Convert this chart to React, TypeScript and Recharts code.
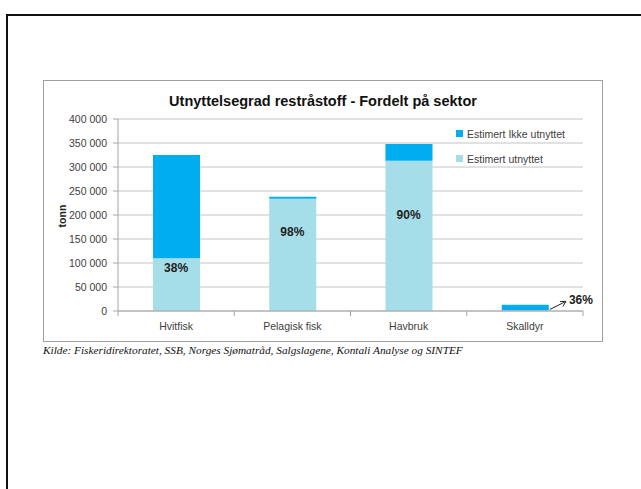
import React from 'react';
import {
  ComposedChart,
  Bar,
  Line,
  XAxis,
  YAxis,
  CartesianGrid,
  Legend,
  LabelList,
} from 'recharts';

const categories = ['Hvitfisk', 'Pelagisk fisk', 'Havbruk', 'Skalldyr'];
const utnyttet = [110000, 234000, 313000, 1500];
const ikkeUtnyttet = [215000, 4000, 35000, 11500];
const pctLabels = ['38%', '98%', '90%', '36%'];
// height (tonn) where each percentage label sits
const labelAt = [90000, 165000, 200000, 22000];
const yTicks = [0, 50000, 100000, 150000, 200000, 250000, 300000, 350000, 400000];

const DARK = '#00AEEF';
const LIGHT = '#A5DDE8';
const FONT = '"Liberation Sans", Arial, sans-serif';

const data = categories.map((name, i) => ({
  name,
  utnyttet: utnyttet[i],
  ikke: ikkeUtnyttet[i],
  pct: pctLabels[i],
  labelAt: labelAt[i],
}));

const fmt = (v: number) => String(v).replace(/\B(?=(\d{3})+(?!\d))/g, ' ');

// Excel style: tick marks between the categories
const XTick = (props: any) => {
  const { x, y, payload, index, visibleTicksCount } = props;
  const half = payload.offset || 58;
  return (
    <g>
      <line x1={x - half} x2={x - half} y1={y} y2={y + 5} stroke="#a6a6a6" />
      {index === visibleTicksCount - 1 && (
        <line x1={x + half} x2={x + half} y1={y} y2={y + 5} stroke="#a6a6a6" />
      )}
      <text
        x={x}
        y={y + 15}
        textAnchor="middle"
        dominantBaseline="central"
        fontSize={10.5}
        fill="#404040"
        fontFamily={FONT}
      >
        {payload.value}
      </text>
    </g>
  );
};

const PctLabel = (props: any) => {
  const { x, y, value, index } = props;
  if (index === 3) {
    // label outside the tiny bar, with an arrow
    const ax1 = x + 25;
    const ay1 = y + 9;
    const ax2 = x + 41;
    const ay2 = y + 1;
    return (
      <g>
        <line x1={ax1} y1={ay1} x2={ax2} y2={ay2} stroke="#222" strokeWidth={1} />
        <polyline
          points={`${ax2 - 6},${ay2} ${ax2},${ay2} ${ax2 - 3},${ay2 + 5}`}
          fill="none"
          stroke="#222"
          strokeWidth={1}
        />
        <text
          x={x + 44}
          y={y}
          dominantBaseline="central"
          fontSize={12}
          fontWeight={700}
          fill="#222"
          fontFamily={FONT}
        >
          {value}
        </text>
      </g>
    );
  }
  return (
    <text
      x={x}
      y={y}
      textAnchor="middle"
      dominantBaseline="central"
      fontSize={12}
      fontWeight={700}
      fill="#222"
      fontFamily={FONT}
    >
      {value}
    </text>
  );
};

const LegendBox = (props: any) => {
  const items = (props.payload || []).filter((p: any) => p.type !== 'none');
  const ordered = [
    ...items.filter((p: any) => p.dataKey === 'ikke'),
    ...items.filter((p: any) => p.dataKey !== 'ikke'),
  ];
  return (
    <div>
      {ordered.map((p: any) => (
        <div
          key={p.value}
          style={{ display: 'flex', alignItems: 'center', height: 25, fontSize: 10.5, color: '#404040', fontFamily: FONT }}
        >
          <span style={{ width: 7, height: 7, background: p.color, marginRight: 4, display: 'inline-block' }} />
          {p.value}
        </div>
      ))}
    </div>
  );
};

const TonnLabel = (props: any) => {
  const vb = props.viewBox || { x: 0, y: 0, width: 75, height: 192 };
  const cx = vb.x + 19;
  const cy = vb.y + vb.height / 2 + 1;
  return (
    <text
      x={cx}
      y={cy}
      transform={`rotate(-90 ${cx} ${cy})`}
      textAnchor="middle"
      dominantBaseline="central"
      fontSize={10.5}
      fontWeight={700}
      fill="#222"
      fontFamily={FONT}
    >
      tonn
    </text>
  );
};

export default function App() {
  return (
    <div
      style={{
        position: 'absolute',
        left: 0,
        top: 0,
        width: 641,
        height: 489,
        overflow: 'hidden',
        background: '#fff',
      }}
    >
      {/* page frame */}
      <div
        style={{
          position: 'absolute',
          left: 6,
          top: 14,
          width: 700,
          height: 520,
          border: '2px solid #111',
        }}
      />

      {/* chart box */}
      <div
        style={{
          position: 'absolute',
          left: 43,
          top: 80,
          width: 560,
          height: 262,
          border: '1px solid #a0a0a0',
          boxSizing: 'border-box',
        }}
      >
        <div
          style={{
            position: 'absolute',
            left: 0,
            right: 0,
            top: 12,
            textAlign: 'center',
            fontFamily: FONT,
            fontWeight: 700,
            fontSize: 14.5,
            color: '#111',
          }}
        >
          Utnyttelsegrad restråstoff - Fordelt på sektor
        </div>
        <div style={{ position: 'absolute', left: -1, top: -1 }}>
          <ComposedChart
            width={560}
            height={262}
            data={data}
            margin={{ top: 39, right: 20, bottom: 0, left: 0 }}
          >
            <CartesianGrid vertical={false} stroke="#c4c4c4" />
            <XAxis
              dataKey="name"
              height={31}
              tickLine={false}
              tickSize={0}
              tickMargin={0}
              interval={0}
              stroke="#a6a6a6"
              tick={<XTick />}
            />
            <YAxis
              width={75}
              domain={[0, 400000]}
              ticks={yTicks}
              tickSize={5}
              tickMargin={6}
              stroke="#a6a6a6"
              tickFormatter={fmt}
              tick={{ fill: '#404040', fontSize: 10.5, fontFamily: FONT }}
              label={<TonnLabel />}
            />
            <Legend
              layout="vertical"
              align="center"
              verticalAlign="middle"
              wrapperStyle={{ left: 413, top: 41, width: 150 }}
              content={<LegendBox />}
            />
            <Bar
              dataKey="utnyttet"
              name="Estimert utnyttet"
              stackId="a"
              fill={LIGHT}
              barSize={47}
              isAnimationActive={false}
            />
            <Bar
              dataKey="ikke"
              name="Estimert Ikke utnyttet"
              stackId="a"
              fill={DARK}
              barSize={47}
              isAnimationActive={false}
            />
            <Line
              dataKey="labelAt"
              stroke="none"
              dot={false}
              activeDot={false}
              legendType="none"
              isAnimationActive={false}
            >
              <LabelList dataKey="pct" content={<PctLabel />} />
            </Line>
          </ComposedChart>
        </div>
      </div>

      {/* source */}
      <div
        style={{
          position: 'absolute',
          left: 43,
          top: 344,
          fontFamily: '"Liberation Serif", "Times New Roman", serif',
          fontStyle: 'italic',
          fontSize: 11.3,
          color: '#111',
          whiteSpace: 'nowrap',
        }}
      >
        Kilde: Fiskeridirektoratet, SSB, Norges Sjømatråd, Salgslagene, Kontali Analyse og SINTEF
      </div>
    </div>
  );
}
